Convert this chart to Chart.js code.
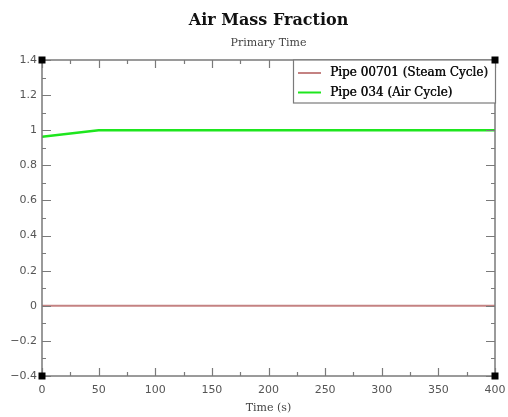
<!DOCTYPE html>
<html><head><meta charset="utf-8">
<script src="https://cdn.jsdelivr.net/npm/chart.js@4"></script>
<style>html,body{margin:0;padding:0;background:#fff}#w{width:508px;height:417px}</style>
</head><body><div id="w"><canvas id="c"></canvas></div>
<script>
const chartTitle = "Air Mass Fraction";
const chartSubtitle = "Primary Time";
const xTitle = "Time (s)";
const timeValues = [0, 50, 100, 150, 200, 250, 300, 350, 400];
const steamLabel = "Pipe 00701 (Steam Cycle)";
const steamValues = [0, 0, 0, 0, 0, 0, 0, 0, 0];
const airLabel = "Pipe 034 (Air Cycle)";
const airValues = [0.963, 1, 1, 1, 1, 1, 1, 1, 1];

const AX = '#7a7a7a';
const fmt = v => { const s = (Math.round(v*10)/10).toString(); return s.replace('-', '\u2212'); };

const deco = {
  id: 'deco',
  afterDraw(chart) {
    const ctx = chart.ctx, a = chart.chartArea, xs = chart.scales.x, ys = chart.scales.y;
    ctx.save();
    ctx.strokeStyle = AX; ctx.lineWidth = 1.5;
    ctx.strokeRect(a.left, a.top, a.right - a.left, a.bottom - a.top);
    ctx.lineWidth = 1.2;
    ctx.beginPath();
    for (let v = 0; v <= 400; v += 25) {
      const p = Math.round(xs.getPixelForValue(v)) + 0.5;
      const L = (v % 50 === 0) ? 8 : 4;
      ctx.moveTo(p, a.bottom); ctx.lineTo(p, a.bottom - L);
      ctx.moveTo(p, a.top); ctx.lineTo(p, a.top + L);
    }
    for (let i = -4; i <= 14; i++) {
      const p = Math.round(ys.getPixelForValue(i/10)) + 0.5;
      const L = (i % 2 === 0) ? 9 : 4;
      ctx.moveTo(a.left, p); ctx.lineTo(a.left + L, p);
      ctx.moveTo(a.right, p); ctx.lineTo(a.right - L, p);
    }
    ctx.stroke();
    // legend
    const lx = 293, ly = a.top, lw = a.right - lx, lh = 43;
    ctx.fillStyle = '#fff';
    ctx.fillRect(lx, ly, lw, lh);
    ctx.strokeStyle = AX; ctx.lineWidth = 1.2;
    ctx.strokeRect(lx + 0.5, ly, lw, lh);
    ctx.font = '12px "DejaVu Serif"';
    ctx.textBaseline = 'middle'; ctx.textAlign = 'left';
    chart.data.datasets.forEach((ds, i) => {
      const y = ly + 13 + i * 19.5;
      ctx.strokeStyle = ds.borderColor; ctx.lineWidth = 2;
      ctx.beginPath(); ctx.moveTo(298, y); ctx.lineTo(321, y); ctx.stroke();
      ctx.fillStyle = '#111';
      ctx.fillText(ds.label, 330, y);
      ctx.fillText(ds.label, 330.4, y);
    });
    ctx.fillStyle = '#000';
    [[a.left,a.top],[a.right,a.top],[a.left,a.bottom],[a.right,a.bottom]].forEach(([x,y]) => ctx.fillRect(x-3.5, y-3.5, 7, 7));
    ctx.textAlign = 'center'; ctx.textBaseline = 'middle';
    const cx = (a.left + a.right) / 2;
    ctx.fillStyle = '#111'; ctx.font = 'bold 16px "DejaVu Serif"';
    ctx.fillText(chartTitle, cx, 21);
    ctx.fillStyle = '#444'; ctx.font = '11px "DejaVu Serif"';
    ctx.fillText(chartSubtitle, cx, 43);
    ctx.fillText(xTitle, cx, 408);
    ctx.restore();
  }
};

new Chart(document.getElementById('c'), {
  type: 'line',
  data: {
    datasets: [
      { label: steamLabel, data: timeValues.map((t, i) => ({x: t, y: steamValues[i]})), borderColor: '#c48282', borderWidth: 2, pointRadius: 0, tension: 0 },
      { label: airLabel, data: timeValues.map((t, i) => ({x: t, y: airValues[i]})), borderColor: '#1ee61e', borderWidth: 2.5, pointRadius: 0, tension: 0 }
    ]
  },
  options: {
    responsive: true, maintainAspectRatio: false, animation: false,
    layout: { padding: { left: 0, right: 13, top: 60, bottom: 0 } },
    plugins: { legend: { display: false }, tooltip: { enabled: false }, title: { display: false } },
    scales: {
      x: {
        type: 'linear', min: 0, max: 400,
        grid: { display: false, drawTicks: false }, border: { display: false },
        afterFit(s) { s.height = 41; s.paddingLeft = 0; s.paddingRight = 0; },
        ticks: { stepSize: 50, color: '#555', font: { family: 'DejaVu Sans', size: 11 }, padding: 8, maxRotation: 0 }
      },
      y: {
        min: -0.4, max: 1.4,
        grid: { display: false, drawTicks: false }, border: { display: false },
        afterFit(s) { s.width = 42; s.paddingTop = 0; s.paddingBottom = 0; },
        ticks: { stepSize: 0.2, color: '#555', font: { family: 'DejaVu Sans', size: 11 }, padding: 5, callback: v => fmt(v) }
      }
    }
  },
  plugins: [deco]
});
</script></body></html>
